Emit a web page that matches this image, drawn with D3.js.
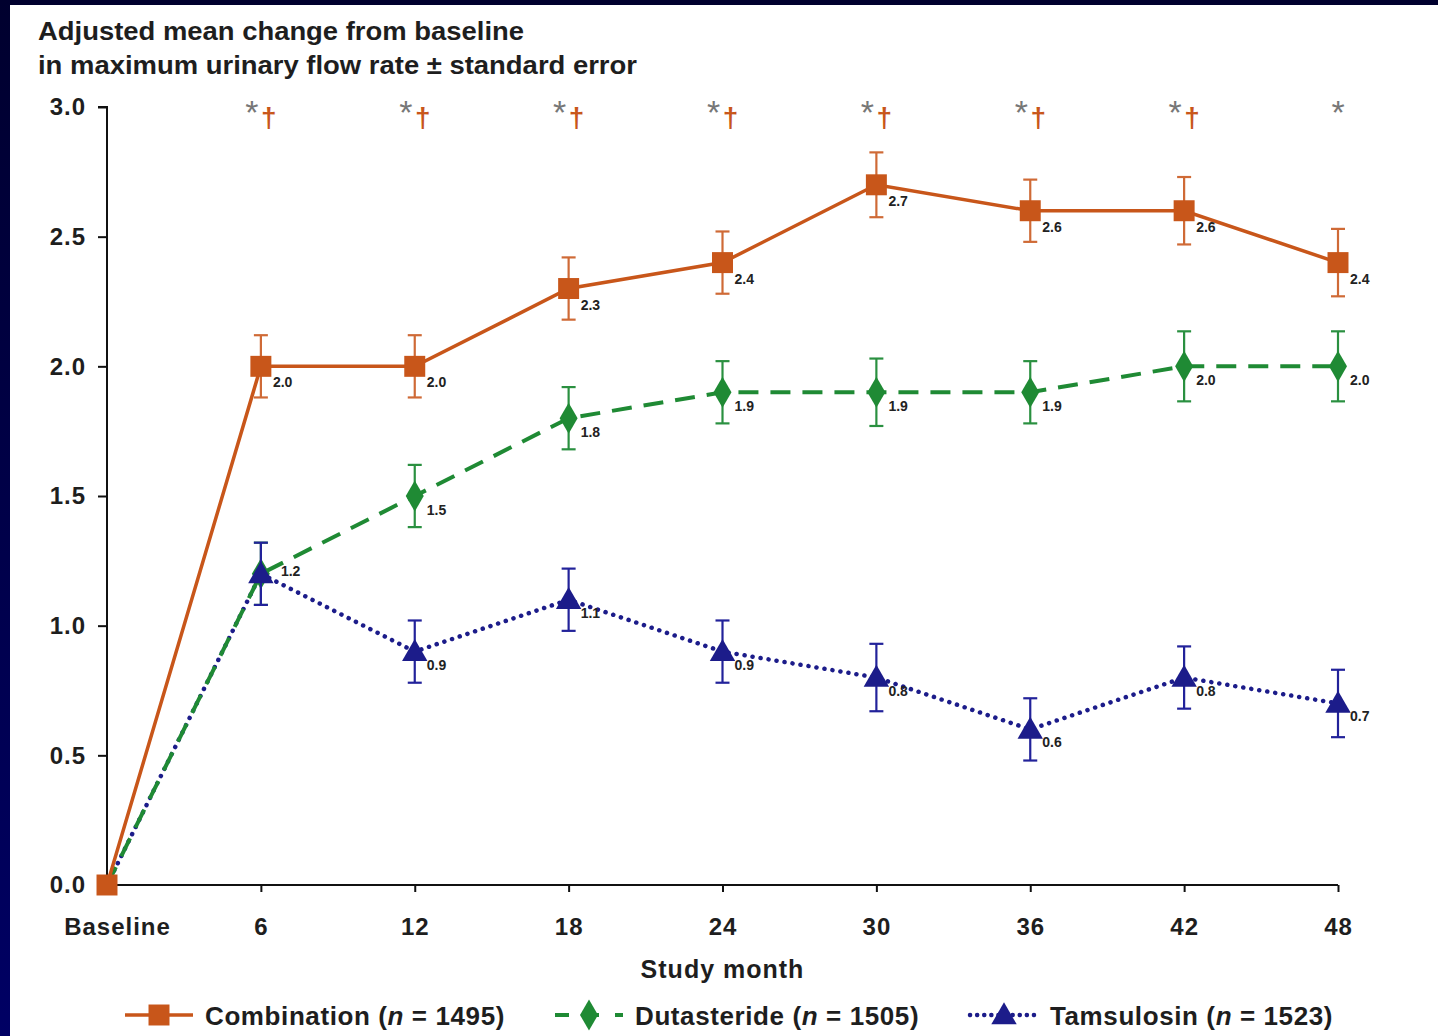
<!DOCTYPE html>
<html>
<head>
<meta charset="utf-8">
<script src="https://cdn.jsdelivr.net/npm/d3@7"></script>
<style>
  html, body { margin: 0; padding: 0; background: #fff; }
  svg { display: block; font-family: Arial, "Liberation Sans", sans-serif; }
</style>
</head>
<body>
<svg></svg>
<script>
// months on the x axis (0 = Baseline)
const months = [0, 6, 12, 18, 24, 30, 36, 42, 48];
const monthLabels = ["Baseline", "6", "12", "18", "24", "30", "36", "42", "48"];

const combination = [0, 2.0, 2.0, 2.3, 2.4, 2.7, 2.6, 2.6, 2.4];
const combinationSE = [0, 0.12, 0.12, 0.12, 0.12, 0.125, 0.12, 0.13, 0.13];
const dutasteride = [0, 1.2, 1.5, 1.8, 1.9, 1.9, 1.9, 2.0, 2.0];
const dutasterideSE = [0, 0.12, 0.12, 0.12, 0.12, 0.13, 0.12, 0.135, 0.135];
const tamsulosin = [0, 1.2, 0.9, 1.1, 0.9, 0.8, 0.6, 0.8, 0.7];
const tamsulosinSE = [0, 0.12, 0.12, 0.12, 0.12, 0.13, 0.12, 0.12, 0.13];

const yTicks = [0, 0.5, 1.0, 1.5, 2.0, 2.5, 3.0];
const signif = ["", "*†", "*†", "*†", "*†", "*†", "*†", "*†", "*"];

const W = 1438, H = 1036;
const svg = d3.select("svg").attr("width", W).attr("height", H);

// dark frame on top and left
const defs = svg.append("defs");
const grad = defs.append("linearGradient").attr("id", "frame").attr("x1", 0).attr("x2", 0).attr("y1", 0).attr("y2", 1);
grad.append("stop").attr("offset", "0%").attr("stop-color", "#00002e");
grad.append("stop").attr("offset", "100%").attr("stop-color", "#000064");
svg.append("rect").attr("width", W).attr("height", H).attr("fill", "url(#frame)");
svg.append("rect").attr("x", 10).attr("y", 5).attr("width", W - 10).attr("height", H - 5).attr("fill", "#fff");

const margin = { top: 107, left: 107, right: 100, bottom: 151 };
const innerW = 1338 - margin.left;
const innerH = 885 - margin.top;

const x = d3.scaleLinear().domain([0, 48]).range([0, innerW]);
const y = d3.scaleLinear().domain([0, 3]).range([innerH, 0]);

const g = svg.append("g").attr("transform", `translate(${margin.left},${margin.top})`);

// title
svg.append("text").attr("x", 38).attr("y", 40).attr("font-size", 25).attr("font-weight", "bold").attr("fill", "#1e1e1e")
  .attr("textLength", 486).attr("lengthAdjust", "spacingAndGlyphs")
  .text("Adjusted mean change from baseline");
svg.append("text").attr("x", 38).attr("y", 74).attr("font-size", 25).attr("font-weight", "bold").attr("fill", "#1e1e1e")
  .attr("textLength", 599).attr("lengthAdjust", "spacingAndGlyphs")
  .text("in maximum urinary flow rate ± standard error");

// axes
const yAxis = d3.axisLeft(y).tickValues(yTicks).tickFormat(d3.format(".1f")).tickSize(9).tickPadding(12);
const yg = g.append("g").call(yAxis);
const xAxis = d3.axisBottom(x).tickValues(months).tickFormat((d, i) => monthLabels[i]).tickSize(7).tickPadding(26);
const xg = g.append("g").attr("transform", `translate(0,${innerH})`).call(xAxis);

[yg, xg].forEach(a => {
  a.select(".domain").attr("stroke", "#111").attr("stroke-width", 2);
  a.selectAll(".tick line").attr("stroke", "#111").attr("stroke-width", 2);
  a.selectAll(".tick text").attr("font-size", 24).attr("font-weight", "bold").attr("fill", "#1e1e1e")
    .attr("letter-spacing", 1).attr("font-family", "Arial, 'Liberation Sans', sans-serif");
});
yg.select(".domain").attr("d", `M-9,0H0V${innerH}`);
xg.select(".domain").attr("d", `M0,0H${innerW}`);
xg.selectAll(".tick").filter(d => d === 0).select("line").remove();
xg.selectAll(".tick").filter(d => d === 0).select("text").attr("dx", 10);

g.append("text").attr("x", x(24)).attr("y", innerH + 93).attr("text-anchor", "middle")
  .attr("font-size", 25).attr("font-weight", "bold").attr("fill", "#1e1e1e").attr("letter-spacing", 1)
  .text("Study month");

// significance markers (* vs tamsulosin, † vs dutasteride)
const sg = g.append("g");
months.forEach((m, i) => {
  if (!signif[i]) return;
  const hasDagger = signif[i].length > 1;
  sg.append("text").attr("x", x(m) - (hasDagger ? 9 : 0)).attr("y", 17).attr("text-anchor", "middle")
    .attr("font-size", 34).attr("fill", "#777").text("*");
  if (hasDagger) sg.append("text").attr("x", x(m) + 8).attr("y", 20).attr("text-anchor", "middle")
    .attr("font-size", 28).attr("font-weight", "bold").attr("fill", "#c8561a").text("†");
});

const series = [
  { name: "Combination", n: 1495, values: combination, se: combinationSE, color: "#c8561a", barColor: "#cf6a36",
    dash: null, cap: "butt", width: 3.5, shape: d3.symbolSquare, size: 440, lab: [12, 21] },
  { name: "Dutasteride", n: 1505, values: dutasteride, se: dutasterideSE, color: "#1f8a34", barColor: "#2a9040",
    dash: "20 12", cap: "butt", width: 4, shape: d3.symbolDiamond, size: 280, lab: [12, 19] },
  { name: "Tamsulosin", n: 1523, values: tamsulosin, se: tamsulosinSE, color: "#1c1c8a", barColor: "#22229a",
    dash: "0.1 8", cap: "round", width: 4.5, shape: d3.symbolTriangle, size: 280, lab: [12, 18] }
];

const line = d3.line().x(d => x(d.m)).y(d => y(d.v));

// lines drawn first (reverse so combination is on top)
series.slice().reverse().forEach(s => {
  const pts = months.map((m, i) => ({ m, v: s.values[i] }));
  g.append("path").datum(pts).attr("d", line).attr("fill", "none")
    .attr("stroke", s.color).attr("stroke-width", s.width)
    .attr("stroke-dasharray", s.dash).attr("stroke-linecap", s.cap);
});

// error bars, markers, value labels
series.forEach((s, si) => {
  const sgp = g.append("g");
  months.forEach((m, i) => {
    if (m === 0) return;
    const v = s.values[i], e = s.se[i];
    const cx = x(m);
    sgp.append("line").attr("x1", cx).attr("x2", cx).attr("y1", y(v + e)).attr("y2", y(v - e))
      .attr("stroke", s.barColor).attr("stroke-width", 2.2);
    [v + e, v - e].forEach(t => sgp.append("line").attr("x1", cx - 7).attr("x2", cx + 7)
      .attr("y1", y(t)).attr("y2", y(t)).attr("stroke", s.barColor).attr("stroke-width", 2.2));
  });
  months.forEach((m, i) => {
    if (m === 0 && si > 0) return;
    sgp.append("path").attr("d", d3.symbol(s.shape, s.size)())
      .attr("transform", `translate(${x(m)},${y(s.values[i]) + (s.shape === d3.symbolTriangle ? 2 : 0)})`)
      .attr("fill", s.color);
  });
  months.forEach((m, i) => {
    if (m === 0) return;
    if (si === 2 && m === 6) return; // shared 1.2 label drawn once
    let dx = s.lab[0], dy = s.lab[1];
    if (si === 1 && m === 6) { dx = 20; dy = 2; }
    sgp.append("text").attr("x", x(m) + dx).attr("y", y(s.values[i]) + dy)
      .attr("font-size", 14).attr("font-weight", "bold").attr("fill", "#222")
      .text(d3.format(".1f")(s.values[i]));
  });
});

// legend
const leg = svg.append("g").attr("transform", "translate(0,1015)");
const legX = [125, 555, 970];
series.forEach((s, i) => {
  const lg = leg.append("g").attr("transform", `translate(${legX[i]},0)`);
  lg.append("line").attr("x1", 0).attr("x2", 68).attr("y1", 0).attr("y2", 0)
    .attr("stroke", s.color).attr("stroke-width", s.width)
    .attr("stroke-dasharray", s.dash ? (i === 1 ? "14 16" : "0.1 7") : null).attr("stroke-linecap", s.cap);
  lg.append("path").attr("d", d3.symbol(s.shape, s.size)()).attr("transform", `translate(34,${i === 2 ? 2 : 0})`).attr("fill", s.color);
  const t = lg.append("text").attr("x", 80).attr("y", 10).attr("font-size", 26).attr("font-weight", "bold")
    .attr("fill", "#1e1e1e").attr("letter-spacing", 0.6);
  t.append("tspan").text(s.name + " (");
  t.append("tspan").attr("font-style", "italic").text("n");
  t.append("tspan").text(" = " + s.n + ")");
});
</script>
</body>
</html>
